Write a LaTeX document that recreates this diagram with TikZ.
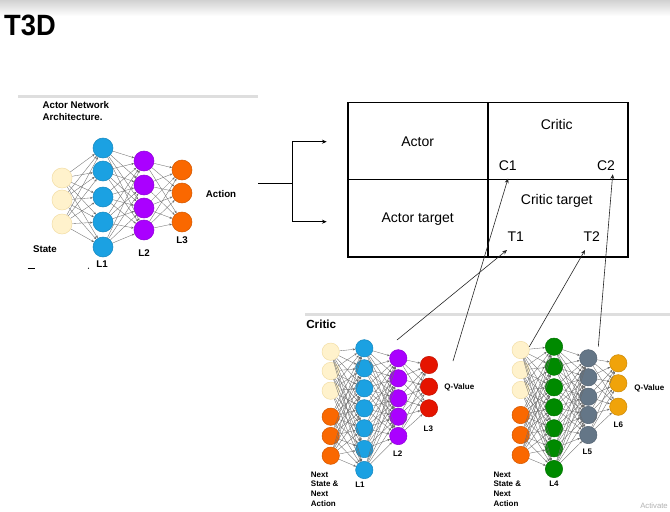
\documentclass[tikz,border=0pt]{standalone}
\usepackage{fontspec}
\setmainfont{Liberation Sans}
\usetikzlibrary{arrows.meta}
\definecolor{cream}{HTML}{FFF2CC}
\definecolor{creamedge}{HTML}{F3DFA8}
\definecolor{nblue}{HTML}{1BA1E2}
\definecolor{npurple}{HTML}{AA00FF}
\definecolor{norange}{HTML}{FA6800}
\definecolor{nred}{HTML}{E51400}
\definecolor{ngreen}{HTML}{008A00}
\definecolor{nslate}{HTML}{647687}
\definecolor{namber}{HTML}{F0A30A}
\tikzset{
  nbig/.style={circle,inner sep=0pt,minimum size=15pt,line width=0.4pt},
  nsml/.style={circle,inner sep=0pt,minimum size=13pt,line width=0.4pt},
  cr/.style={fill=cream,draw=creamedge},
  bl/.style={fill=nblue,draw=nblue!85!black},
  pu/.style={fill=npurple,draw=npurple!85!black},
  og/.style={fill=norange,draw=norange!85!black},
  rd/.style={fill=nred,draw=nred!85!black},
  gn/.style={fill=ngreen,draw=ngreen!85!black},
  sl/.style={fill=nslate,draw=nslate!85!black},
  am/.style={fill=namber,draw=namber!85!black},
  edge/.style={draw=black!58,line width=0.25pt,-{Stealth[length=2pt,width=1.6pt]}},
  lbl/.style={font=\bfseries\fontsize{7.3}{9}\selectfont,inner sep=0pt},
  slbl/.style={font=\bfseries\fontsize{6}{7.3}\selectfont,inner sep=0pt},
  boxtxt/.style={font=\fontsize{10.5}{12}\selectfont,inner sep=0pt},
  cell/.style={draw=black,line width=1.3pt,minimum width=105pt,minimum height=57.9pt,inner sep=0pt},
  link/.style={draw=black!85,line width=0.45pt,-{Stealth[length=3.5pt,width=3pt]}},
  bracket/.style={draw=black,line width=0.6pt},
  bracketarrow/.style={draw=black,line width=0.6pt,-{Stealth[length=3.5pt,width=3pt]}},
  panel/.style={draw=black!13,line width=2pt},
}
\begin{document}
\begin{tikzpicture}[x=0.75pt,y=-0.75pt]
\useasboundingbox (0,0) rectangle (670,511);
\fill[white] (0,0) rectangle (670,511);
% top gradient bar
\foreach \k in {0,...,15}{
  \pgfmathsetmacro\g{18*(1-\k/16)}
  \fill[black!\g] (0,\k) rectangle (670,\k+1.3);
}
% title
\node[font=\bfseries\fontsize{22}{26}\selectfont,xscale=0.93,anchor=west,inner sep=0pt] (title) at (4,25.5) {T3D};

% ===== Actor panel =====
\draw[panel] (18,96.5) -- (258,96.5);
\node[lbl,align=left,anchor=north west] (actnet) at (42.3,101) {Actor Network\\Architecture.};

\foreach \y [count=\i] in {178,200,224} \node[nbig,cr] (a\i) at (62,\y) {};
\foreach \y [count=\i] in {148,171,197,222,247} \node[nbig,bl] (b\i) at (103,\y) {};
\foreach \y [count=\i] in {161,185,208,230} \node[nbig,pu] (c\i) at (144,\y) {};
\foreach \y [count=\i] in {170,193,222} \node[nbig,og] (d\i) at (182,\y) {};
\foreach \i in {1,...,3} \foreach \j in {1,...,5} \path[edge] (a\i) -- (b\j);
\foreach \i in {1,...,5} \foreach \j in {1,...,4} \path[edge] (b\i) -- (c\j);
\foreach \i in {1,...,4} \foreach \j in {1,...,3} \path[edge] (c\i) -- (d\j);

\node[lbl] (lstate) at (45,249) {State};
\node[lbl] (lL1) at (102,264) {L1};
\node[lbl] (lL2) at (144,253) {L2};
\node[lbl] (lL3) at (182,240) {L3};
\node[lbl] (laction) at (221,194) {Action};
\draw[black,line width=0.9pt] (27.7,268.3) -- (35,268.3);
\fill[black] (88.5,268.3) circle (0.6);

% ===== Bracket arrows =====
\coordinate (br0) at (258,183.3);
\coordinate (br1) at (292.7,183.3);
\coordinate (tipA) at (326.7,141.7);
\coordinate (tipB) at (326.7,221.7);
\draw[bracket] (br0) -- (br1);
\draw[bracketarrow] (br1) |- (tipA);
\draw[bracketarrow] (br1) |- (tipB);

% ===== Box =====
\node[cell] (cA) at (417.7,141) {};
\node[cell] (cC) at (557.7,141) {};
\node[cell] (cAT) at (417.7,218.1) {};
\node[cell] (cCT) at (557.7,218.1) {};
\node[boxtxt] (tActor) at (417.7,141.7) {Actor};
\node[boxtxt] (tCritic) at (556.7,124.3) {Critic};
\node[boxtxt] (tC1) at (507.7,166) {C1};
\node[boxtxt] (tC2) at (606,166) {C2};
\node[boxtxt] (tAT) at (417.7,219) {Actor target};
\node[boxtxt] (tCT) at (556.7,201) {Critic target};
\node[boxtxt] (tT1) at (515.7,236.7) {T1};
\node[boxtxt] (tT2) at (591.7,236.7) {T2};

% ===== Critic panel =====
\draw[panel] (305,314.5) -- (670,314.5);
\node[font=\bfseries\fontsize{8.8}{10}\selectfont,inner sep=0pt,anchor=west] (lcritic) at (306,324) {Critic};

% critic 1
\foreach \y [count=\i] in {351.7,371,390.7} \node[nsml,cr] (p\i) at (330.7,\y) {};
\foreach \y [count=\i] in {416.7,436,455.7} \node[nsml,og] (p\the\numexpr\i+3\relax) at (330.7,\y) {};
\foreach \y [count=\i] in {348.3,368.3,388.3,408.3,428.3,449,470} \node[nsml,bl] (q\i) at (364.3,\y) {};
\foreach \y [count=\i] in {358.3,378.3,398.3,416.7,436} \node[nsml,pu] (r\i) at (398.3,\y) {};
\foreach \y [count=\i] in {365,386.7,408.3} \node[nsml,rd] (s\i) at (429,\y) {};
\foreach \i in {1,...,6} \foreach \j in {1,...,7} \path[edge] (p\i) -- (q\j);
\foreach \i in {1,...,7} \foreach \j in {1,...,5} \path[edge] (q\i) -- (r\j);
\foreach \i in {1,...,5} \foreach \j in {1,...,3} \path[edge] (r\i) -- (s\j);
\node[slbl] (lq1) at (459.3,387.3) {Q-Value};
\node[slbl] (l1L3) at (428.3,428.3) {L3};
\node[slbl] (l1L2) at (397.7,454) {L2};
\node[slbl] (l1L1) at (360,485) {L1};
\node[slbl,align=left,anchor=north west] (lnext1) at (310.7,471.3) {Next\\State \&\\Next\\Action};

% critic 2
\foreach \y [count=\i] in {350,370,390} \node[nsml,cr] (u\i) at (520.7,\y) {};
\foreach \y [count=\i] in {415,435,455} \node[nsml,og] (u\the\numexpr\i+3\relax) at (520.7,\y) {};
\foreach \y [count=\i] in {346.7,366.7,387.3,407.3,428.3,448.3,469} \node[nsml,gn] (v\i) at (554,\y) {};
\foreach \y [count=\i] in {358.3,377.3,396.7,415,435} \node[nsml,sl] (w\i) at (588.3,\y) {};
\foreach \y [count=\i] in {363.3,383.3,406.7} \node[nsml,am] (z\i) at (618.3,\y) {};
\foreach \i in {1,...,6} \foreach \j in {1,...,7} \path[edge] (u\i) -- (v\j);
\foreach \i in {1,...,7} \foreach \j in {1,...,5} \path[edge] (v\i) -- (w\j);
\foreach \i in {1,...,5} \foreach \j in {1,...,3} \path[edge] (w\i) -- (z\j);
\node[slbl] (lq2) at (649.3,388.3) {Q-Value};
\node[slbl] (l2L6) at (618.3,425) {L6};
\node[slbl] (l2L5) at (587.3,451.7) {L5};
\node[slbl] (l2L4) at (554,484) {L4};
\node[slbl,align=left,anchor=north west] (lnext2) at (493.3,471.3) {Next\\State \&\\Next\\Action};

% ===== links to box =====
\coordinate (src1) at (397,340);
\coordinate (src2) at (453,361);
\coordinate (src3) at (529.3,346.7);
\coordinate (src4) at (598.3,346.7);
\coordinate (tipT1) at (507,250);
\coordinate (tipC1) at (508,178.5);
\coordinate (tipT2) at (585,250);
\coordinate (tipC2) at (612.7,174.3);
\draw[link] (src1) -- (tipT1);
\draw[link] (src2) -- (tipC1);
\draw[link] (src3) -- (tipT2);
\draw[link] (src4) -- (tipC2);

\node[font=\fontsize{5.8}{7}\selectfont,text=black!30,inner sep=0pt] (activ) at (654,506) {Activate};
\end{tikzpicture}
\end{document}
